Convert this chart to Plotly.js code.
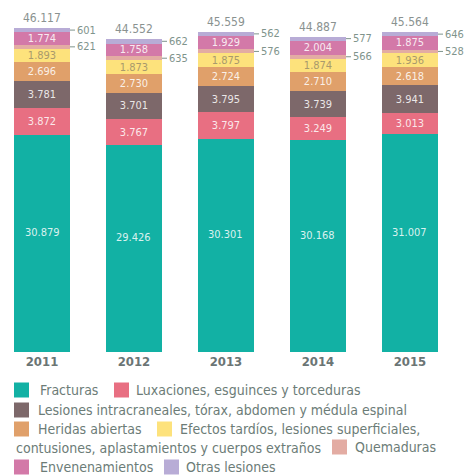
<!DOCTYPE html>
<html>
<head>
<meta charset="utf-8">
<script src="https://cdn.plot.ly/plotly-3.0.1.min.js"></script>
<style>html,body{margin:0;padding:0;background:#fff;}#chart{width:465px;height:475px;}</style>
</head>
<body>
<div id="chart"></div>
<script>
// ---- data ----
const years = ['2011', '2012', '2013', '2014', '2015'];
const fracturas = [30879, 29426, 30301, 30168, 31007];
const luxaciones = [3872, 3767, 3797, 3249, 3013];
const lesionesIntra = [3781, 3701, 3795, 3739, 3941];
const heridas = [2696, 2730, 2724, 2710, 2618];
const efectos = [1893, 1873, 1875, 1874, 1936];
const quemaduras = [621, 635, 576, 566, 528];
const envenenamientos = [1774, 1758, 1929, 2004, 1875];
const otras = [601, 662, 562, 577, 646];
const totals = [46117, 44552, 45559, 44887, 45564];

const seriesNames = ['Fracturas', 'Luxaciones, esguinces y torceduras',
  'Lesiones intracraneales, tórax, abdomen y médula espinal', 'Heridas abiertas',
  'Efectos tardíos, lesiones superficiales, contusiones, aplastamientos y cuerpos extraños',
  'Quemaduras', 'Envenenamientos', 'Otras lesiones'];
const seriesValues = [fracturas, luxaciones, lesionesIntra, heridas, efectos, quemaduras, envenenamientos, otras];
const colors = ['#12b1a4', '#e86f82', '#7d686a', '#e0a06a', '#fde27c', '#e3aca3', '#d379a8', '#b8acd6'];
// 'bar' = label inside via bar text, 'ann' = label inside via annotation (raised), 'side' = leader label
const labelMode = ['ann', 'bar', 'bar', 'bar', 'bar', 'side', 'bar', 'side'];
const textColors = ['rgba(255,255,255,0.85)', 'rgba(255,255,255,0.85)', 'rgba(255,255,255,0.85)',
  'rgba(255,255,255,0.85)', '#a99a6c', '#fff', 'rgba(255,255,255,0.85)', '#fff'];

const FONT = '"DejaVu Sans Condensed", "DejaVu Sans", Roboto, sans-serif';
const W = 465, H = 475, PLOT_BOTTOM = 352;
const GRAY = '#8a9290', LEG = '#6c7c77', LEADER = '#7f948c';

const traces = seriesValues.map((vals, k) => ({
  type: 'bar', x: years, y: vals, name: seriesNames[k],
  marker: { color: colors[k], line: { width: 0 } },
  texttemplate: labelMode[k] === 'bar' ? '%{y:,}' : '',
  textposition: labelMode[k] === 'bar' ? 'inside' : 'none',
  insidetextanchor: 'middle',
  constraintext: 'none',
  textangle: 0,
  textfont: { family: FONT, size: 11, color: textColors[k] },
  hoverinfo: 'skip', showlegend: false
}));

const annotations = [];
const fmt = v => Plotly.d3 ? String(v) : String(v);
const thousands = v => { const s = String(v); return s.length > 3 ? s.slice(0, -3) + '.' + s.slice(-3) : s; };
// totals on top
years.forEach((yr, i) => {
  annotations.push({ x: i, y: totals[i], xref: 'x', yref: 'y', text: thousands(totals[i]),
    showarrow: false, yanchor: 'bottom', yshift: 1, font: { family: FONT, size: 12, color: GRAY } });
});
const halfBar = (1 - 0.391) / 2;
seriesValues.forEach((vals, k) => {
  if (labelMode[k] === 'bar') return;
  years.forEach((yr, i) => {
    let base = 0;
    for (let j = 0; j < k; j++) base += seriesValues[j][i];
    const mid = base + vals[i] / 2;
    if (labelMode[k] === 'ann') {
      annotations.push({ x: i, y: mid, xref: 'x', yref: 'y', text: thousands(vals[i]), showarrow: false,
        yshift: 11, font: { family: FONT, size: 11, color: textColors[k] } });
    } else {
      annotations.push({ x: i + halfBar, y: mid, xref: 'x', yref: 'y', text: String(vals[i]),
        showarrow: true, arrowhead: 0, arrowwidth: 1, arrowcolor: LEADER, ax: 16, ay: 0, standoff: 0,
        font: { family: FONT, size: 11, color: LEADER } });
    }
  });
});

// manual legend (pixel positions converted to paper coords)
const px = x => x / W;
const py = y => (PLOT_BOTTOM - y) / PLOT_BOTTOM;
const shapes = [];
const legendItems = [
  { k: 0, sx: 14, tx: 38, y: 390, label: seriesNames[0] },
  { k: 1, sx: 114, tx: 134, y: 390, label: seriesNames[1] },
  { k: 2, sx: 14, tx: 36, y: 410, label: seriesNames[2] },
  { k: 3, sx: 14, tx: 36, y: 429, label: seriesNames[3] },
  { k: 4, sx: 157, tx: 178, y: 429, label: 'Efectos tardíos, lesiones superficiales,' },
  { k: -1, sx: 0, tx: 14, y: 448, label: 'contusiones, aplastamientos y cuerpos extraños' },
  { k: 5, sx: 332, tx: 353, y: 447, label: seriesNames[5] },
  { k: 6, sx: 14, tx: 38, y: 467, label: seriesNames[6] },
  { k: 7, sx: 164, tx: 184, y: 467, label: seriesNames[7] }
];
legendItems.forEach(it => {
  if (it.k >= 0) {
    shapes.push({ type: 'rect', xref: 'paper', yref: 'paper',
      x0: px(it.sx), x1: px(it.sx + 15), y0: py(it.y + 7.5), y1: py(it.y - 7.5),
      fillcolor: colors[it.k], line: { width: 0 } });
  }
  annotations.push({ xref: 'paper', yref: 'paper', x: px(it.tx), y: py(it.y), xanchor: 'left', yanchor: 'middle',
    text: it.label, showarrow: false, font: { family: FONT, size: 14, color: LEG } });
});

const layout = {
  width: W, height: H,
  margin: { l: 0, r: 0, t: 0, b: H - PLOT_BOTTOM, pad: 0 },
  paper_bgcolor: '#fff', plot_bgcolor: '#fff',
  barmode: 'stack', bargap: 0.391,
  separators: ',.',
  showlegend: false,
  xaxis: { type: 'category', range: [-0.4565, 4.598], showgrid: false, zeroline: false, showline: false,
    ticks: '', tickfont: { family: FONT, size: 13, color: '#6b7574', weight: 'bold' }, fixedrange: true },
  yaxis: { range: [0, PLOT_BOTTOM / 0.007026], visible: false, showgrid: false, zeroline: false, fixedrange: true },
  annotations: annotations, shapes: shapes,
  font: { family: FONT }
};

Plotly.newPlot('chart', traces, layout, { staticPlot: true, displayModeBar: false });
</script>
</body>
</html>
